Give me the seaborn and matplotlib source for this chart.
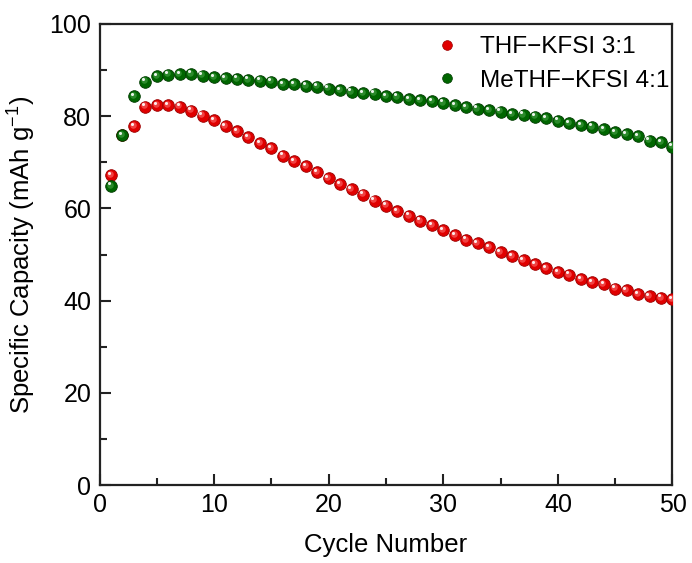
import numpy as np
import pandas as pd
import matplotlib
matplotlib.use("Agg")
import matplotlib.pyplot as plt
from matplotlib.transforms import offset_copy
from matplotlib.lines import Line2D
import seaborn as sns

cycles = list(range(1, 51))

thf_kfsi = [67.2, 75.9, 77.8, 82.1, 82.4, 82.4, 82.1, 81.2, 80.1, 79.2,
            77.9, 76.8, 75.4, 74.2, 73.0, 71.4, 70.2, 69.1, 67.8, 66.6,
            65.3, 64.1, 63.0, 61.7, 60.6, 59.4, 58.4, 57.3, 56.3, 55.3,
            54.2, 53.2, 52.4, 51.6, 50.5, 49.7, 48.7, 47.9, 47.0, 46.2,
            45.6, 44.6, 44.0, 43.5, 42.6, 42.2, 41.4, 41.0, 40.6, 40.3]

methf_kfsi = [64.9, 75.9, 84.4, 87.5, 88.7, 89.0, 89.1, 89.2, 88.8, 88.4,
              88.2, 88.1, 87.9, 87.7, 87.5, 86.9, 86.9, 86.6, 86.4, 86.0,
              85.7, 85.3, 85.0, 84.9, 84.4, 84.2, 83.7, 83.5, 83.2, 82.9,
              82.4, 82.0, 81.6, 81.3, 81.0, 80.5, 80.3, 79.9, 79.5, 79.0,
              78.5, 78.1, 77.7, 77.2, 76.6, 76.1, 75.6, 74.7, 74.3, 73.4]

series_names = ["THF\u2212KFSI 3:1", "MeTHF\u2212KFSI 4:1"]
series_values = [thf_kfsi, methf_kfsi]
base_colors = ["#e00000", "#006600"]
edge_colors = ["#9a0000", "#003a00"]
glow_colors = ["#ff7a7a", "#4fa84f"]

x_ticks = [0, 10, 20, 30, 40, 50]
y_ticks = [0, 20, 40, 60, 80, 100]

df = pd.concat(
    [pd.DataFrame({"Cycle": cycles, "Capacity": vals, "Electrolyte": name})
     for name, vals in zip(series_names, series_values)],
    ignore_index=True,
)

sns.set_theme(style="ticks")
plt.rcParams["font.family"] = ["Liberation Sans", "DejaVu Sans"]
plt.rcParams["mathtext.fontset"] = "custom"
plt.rcParams["mathtext.rm"] = "Liberation Sans"
plt.rcParams["text.color"] = "black"
plt.rcParams["axes.labelcolor"] = "black"

fig = plt.figure(figsize=(6.92, 5.63), dpi=100)
ax = fig.add_axes([0.1438, 0.1385, 0.828, 0.8189])

glow_tr = offset_copy(ax.transData, fig=fig, x=-0.9, y=0.9, units="points")
spec_tr = offset_copy(ax.transData, fig=fig, x=-1.6, y=1.7, units="points")

for name, base, edge, glow in zip(series_names, base_colors, edge_colors, glow_colors):
    sub = df[df["Electrolyte"] == name]
    sns.scatterplot(data=sub, x="Cycle", y="Capacity", ax=ax, color=base,
                    s=70, edgecolor=edge, linewidth=0.6, legend=False, zorder=3)
    ax.scatter(sub["Cycle"], sub["Capacity"], s=22, color=glow, alpha=0.55,
               linewidths=0, transform=glow_tr, zorder=3)
    ax.scatter(sub["Cycle"], sub["Capacity"], s=5, color="white", alpha=0.9,
               linewidths=0, transform=spec_tr, zorder=3)

ax.set_xlim(0, 50)
ax.set_ylim(0, 100)
ax.set_xticks(x_ticks)
ax.set_yticks(y_ticks)
ax.set_xticks(np.arange(5, 50, 10), minor=True)
ax.set_yticks(np.arange(10, 100, 20), minor=True)
ax.tick_params(which="both", direction="in", top=False, right=False,
               labelsize=18, width=1.5, colors="#222222", labelcolor="black")
ax.tick_params(which="major", length=8, pad=6)
ax.tick_params(which="minor", length=5)
for sp in ax.spines.values():
    sp.set_linewidth(1.6)
    sp.set_color("#222222")

ax.set_xlabel("Cycle Number", fontsize=18.5, labelpad=11)
ax.set_ylabel("Specific Capacity (mAh g$^{-1}$)", fontsize=18.5, labelpad=9)

handles = [Line2D([], [], linestyle="none", marker="o", markersize=7,
                  markerfacecolor=c, markeredgecolor=e, markeredgewidth=0.5)
           for c, e in zip(base_colors, edge_colors)]
ax.legend(handles, series_names, loc="upper right", bbox_to_anchor=(1.012, 0.995),
          frameon=False, fontsize=17.5, handletextpad=0.75, labelspacing=0.48,
          borderaxespad=0.0, handlelength=1.2)

fig.savefig("out.png", dpi=100)
